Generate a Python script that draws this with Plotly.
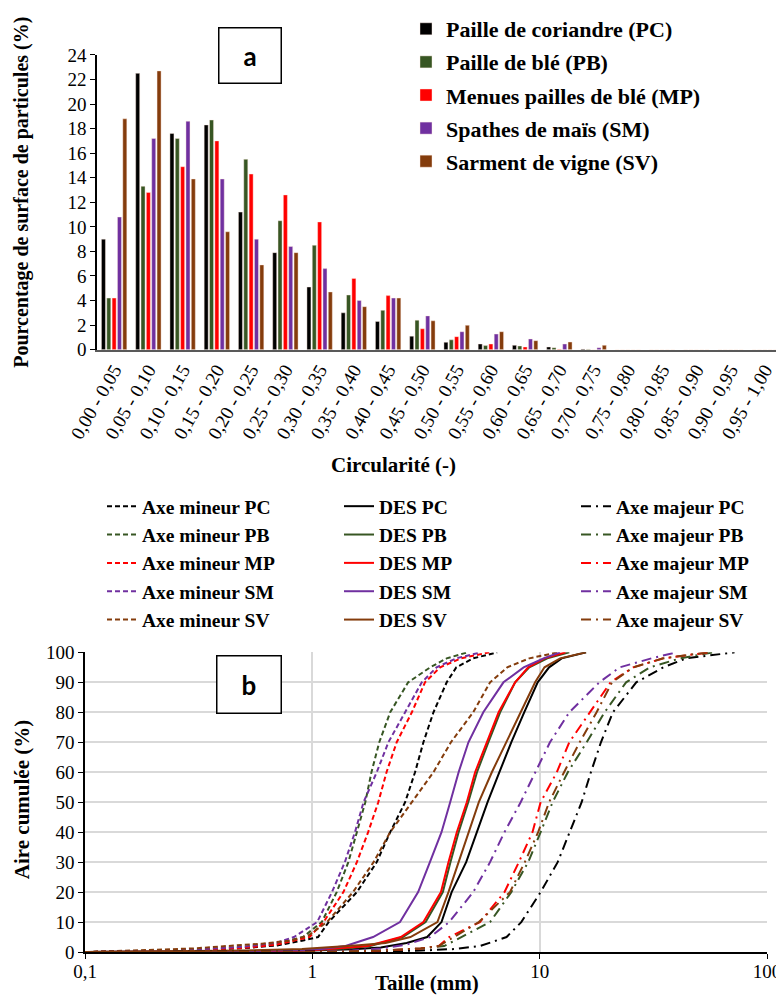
import plotly.graph_objects as go

# ---------------- Chart a: circularity distribution ----------------
categories = ["0,00 - 0,05", "0,05 - 0,10", "0,10 - 0,15", "0,15 - 0,20", "0,20 - 0,25",
              "0,25 - 0,30", "0,30 - 0,35", "0,35 - 0,40", "0,40 - 0,45", "0,45 - 0,50",
              "0,50 - 0,55", "0,55 - 0,60", "0,60 - 0,65", "0,65 - 0,70", "0,70 - 0,75",
              "0,75 - 0,80", "0,80 - 0,85", "0,85 - 0,90", "0,90 - 0,95", "0,95 - 1,00"]

bar_names = ["Paille de coriandre (PC)", "Paille de blé (PB)", "Menues pailles de blé (MP)",
             "Spathes de maïs (SM)", "Sarment de vigne (SV)"]

pc_vals = [9.0, 22.5, 17.6, 18.3, 11.2, 7.9, 5.1, 3.0, 2.3, 1.1, 0.6, 0.46, 0.35, 0.22, 0.05, 0, 0, 0, 0, 0]
pb_vals = [4.2, 13.3, 17.2, 18.7, 15.5, 10.5, 8.5, 4.45, 3.2, 2.4, 0.8, 0.33, 0.3, 0.16, 0.04, 0, 0, 0, 0, 0]
mp_vals = [4.2, 12.8, 14.9, 17.0, 14.3, 12.6, 10.4, 5.8, 4.4, 1.7, 1.06, 0.46, 0.22, 0.03, 0, 0, 0, 0, 0, 0]
sm_vals = [10.8, 17.2, 18.6, 13.9, 9.0, 8.4, 6.6, 4.0, 4.2, 2.75, 1.46, 1.27, 0.87, 0.46, 0.16, 0, 0, 0, 0, 0]
sv_vals = [18.8, 22.7, 13.9, 9.6, 6.9, 7.9, 4.7, 3.5, 4.2, 2.35, 1.98, 1.46, 0.73, 0.62, 0.35, 0, 0, 0, 0, 0]

# ---------------- Chart b: cumulative area vs size ----------------
min_pc_x = [0.1, 0.2, 0.3, 0.5, 0.7, 0.9, 1.06, 1.18, 1.57, 1.92, 2.2, 2.56, 2.83, 3.08, 3.41, 3.9, 4.3, 5.1, 6.5]
min_pc_y = [0, 0.3, 0.6, 1.3, 2.2, 3.8, 5, 10, 20, 30, 40, 50, 60, 70, 80, 90, 95, 98, 100]
min_pb_x = [0.1, 0.2, 0.3, 0.5, 0.7, 0.91, 1.1, 1.28, 1.44, 1.57, 1.71, 1.82, 1.97, 2.2, 2.64, 3.3, 3.9, 4.8]
min_pb_y = [0, 0.3, 0.7, 1.6, 2.8, 5, 10, 20, 30, 40, 50, 60, 70, 80, 90, 95, 98, 100]
min_mp_x = [0.1, 0.2, 0.3, 0.5, 0.7, 0.97, 1.12, 1.37, 1.57, 1.76, 1.95, 2.12, 2.35, 2.74, 3.13, 3.65, 4.5, 6.0]
min_mp_y = [0, 0.3, 0.6, 1.4, 2.5, 5, 10, 20, 30, 40, 50, 60, 70, 80, 90, 95, 98, 100]
min_sm_x = [0.1, 0.2, 0.3, 0.5, 0.7, 0.83, 1.05, 1.22, 1.39, 1.54, 1.68, 1.92, 2.16, 2.56, 3.03, 3.52, 4.3, 5.5]
min_sm_y = [0, 0.3, 0.8, 1.8, 3.2, 5, 10, 20, 30, 40, 50, 60, 70, 80, 90, 95, 98, 100]
min_sv_x = [0.1, 0.2, 0.3, 0.42, 0.6, 0.8, 0.96, 1.16, 1.51, 1.86, 2.2, 2.74, 3.41, 4.07, 5.1, 6.05, 7.2, 9.0, 12]
min_sv_y = [0, 0.6, 1.2, 2, 2.8, 3.8, 5.5, 10, 20, 30, 40, 50, 60, 70, 80, 90, 95, 98, 100]

des_pc_x = [0.1, 0.5, 1.0, 1.5, 2.0, 2.6, 3.2, 3.7, 4.1, 4.75, 5.3, 5.9, 6.65, 7.5, 8.55, 9.8, 11.0, 12.5, 16]
des_pc_y = [0, 0.2, 0.5, 0.9, 1.5, 3, 5, 10, 20, 30, 40, 50, 60, 70, 80, 90, 95, 98, 100]
des_pb_x = [0.1, 0.5, 1.0, 1.4, 1.8, 2.5, 3.15, 3.75, 4.05, 4.4, 4.85, 5.3, 5.95, 6.7, 7.8, 9.0, 10.8, 13.5]
des_pb_y = [0, 0.2, 0.6, 1.2, 2, 5, 10, 20, 30, 40, 50, 60, 70, 80, 90, 95, 98, 100]
des_mp_x = [0.1, 0.5, 1.0, 1.3, 1.75, 2.45, 3.08, 3.68, 3.97, 4.32, 4.78, 5.2, 5.85, 6.6, 7.8, 8.9, 10.5, 13]
des_mp_y = [0, 0.2, 0.6, 1.2, 2, 5, 10, 20, 30, 40, 50, 60, 70, 80, 90, 95, 98, 100]
des_sm_x = [0.1, 0.5, 0.9, 1.1, 1.4, 1.85, 2.43, 2.92, 3.29, 3.7, 4.04, 4.4, 4.86, 5.65, 6.93, 8.5, 10.4, 12.3]
des_sm_y = [0, 0.3, 0.7, 1, 2, 5, 10, 20, 30, 40, 50, 60, 70, 80, 90, 95, 98, 100]
des_sv_x = [0.1, 0.5, 0.9, 1.3, 1.6, 2.1, 2.7, 3.55, 3.97, 4.4, 4.86, 5.4, 6.16, 7.15, 8.25, 9.55, 10.5, 12.3, 16]
des_sv_y = [0, 0.5, 1, 1.7, 2.3, 3, 5, 10, 20, 30, 40, 50, 60, 70, 80, 90, 95, 98, 100]

maj_pc_x = [0.1, 1.0, 2.0, 3.0, 4.2, 5.46, 7.15, 8.3, 10.1, 12.0, 13.6, 15.3, 16.8, 18.6, 21, 26.6, 35, 44, 72]
maj_pc_y = [0, 0, 0.2, 0.5, 1, 2, 5, 10, 20, 30, 40, 50, 60, 70, 80, 90, 95, 98, 100]
maj_pb_x = [0.1, 1.0, 2.0, 3.0, 3.8, 4.5, 6.05, 7.5, 8.9, 10.1, 11.4, 13.3, 16.1, 19.3, 24, 30.5, 41.5, 58]
maj_pb_y = [0, 0, 0.5, 1.2, 2, 5, 10, 20, 30, 40, 50, 60, 70, 80, 90, 95, 98, 100]
maj_mp_x = [0.1, 1.0, 2.0, 3.0, 3.6, 4.0, 5.46, 7.0, 8.1, 9.3, 10.1, 11.9, 13.5, 16.6, 20.5, 25.8, 35, 56]
maj_mp_y = [0, 0, 0.5, 1.2, 2, 5, 10, 20, 30, 40, 50, 60, 70, 80, 90, 95, 98, 100]
maj_sm_x = [0.1, 1.0, 1.5, 2.0, 2.6, 3.3, 4.0, 5.1, 6.05, 7.0, 8.25, 9.55, 11.1, 13.5, 18.3, 22.5, 31, 40]
maj_sm_y = [0, 0, 0.5, 1.2, 2.5, 5, 10, 20, 30, 40, 50, 60, 70, 80, 90, 95, 98, 100]
maj_sv_x = [0.1, 1.0, 2.0, 3.0, 3.6, 4.2, 5.4, 7.4, 8.6, 9.85, 11.0, 12.8, 15.0, 17.8, 20.8, 25.8, 35, 55]
maj_sv_y = [0, 0, 0.5, 1.2, 2, 5, 10, 20, 30, 40, 50, 60, 70, 80, 90, 95, 98, 100]

size_ticks = [0.1, 1, 10, 100]
size_ticktext = ["0,1", "1", "10", "100"]

# ---------------- styling ----------------
# the page body keeps an 8px margin, so the figure is sized to fit the window
OFF = 8
W, H = 784 - OFF, 999 - OFF
SERIF = "Liberation Serif, Times New Roman, serif"
colors = ["#000000", "#375623", "#FF0000", "#7030A0", "#843C0C"]
codes = ["PC", "PB", "MP", "SM", "SV"]


def px_x(p):
    return (p - OFF) / W


def px_y(p):
    return 1 - (p - OFF) / H


fig = go.Figure()

bar_series = [pc_vals, pb_vals, mp_vals, sm_vals, sv_vals]
for i, (nm, vals) in enumerate(zip(bar_names, bar_series)):
    fig.add_trace(go.Bar(
        x=categories, y=vals, name=nm, xaxis="x", yaxis="y",
        marker=dict(color=colors[i], line=dict(color="rgba(255,235,225,0.7)", width=0.6)),
        legend="legend", legendgroup="bar%d" % i,
    ))

minor = [(min_pc_x, min_pc_y), (min_pb_x, min_pb_y), (min_mp_x, min_mp_y), (min_sm_x, min_sm_y), (min_sv_x, min_sv_y)]
des = [(des_pc_x, des_pc_y), (des_pb_x, des_pb_y), (des_mp_x, des_mp_y), (des_sm_x, des_sm_y), (des_sv_x, des_sv_y)]
major = [(maj_pc_x, maj_pc_y), (maj_pb_x, maj_pb_y), (maj_mp_x, maj_mp_y), (maj_sm_x, maj_sm_y), (maj_sv_x, maj_sv_y)]

groups = [("Axe mineur ", minor, "5px,3px", "legend2"),
          ("DES ", des, "solid", "legend3"),
          ("Axe majeur ", major, "10px,5px,2px,5px", "legend4")]
for prefix, data, dash, lg in groups:
    for i, (xs, ys) in enumerate(data):
        fig.add_trace(go.Scatter(
            x=xs, y=ys, mode="lines", name=prefix + codes[i],
            line=dict(color=colors[i], width=2, dash=dash),
            xaxis="x2", yaxis="y2", legend=lg,
        ))

tickfont = dict(family=SERIF, size=19, color="black")
legfont_top = dict(family=SERIF, size=22, color="black", weight="bold")
legfont_bot = dict(family=SERIF, size=19.5, color="black", weight="bold")

fig.update_layout(
    width=W, height=H, margin=dict(l=0, r=0, t=0, b=0),
    paper_bgcolor="white", plot_bgcolor="white",
    barmode="group", bargap=0.22, bargroupgap=0.25,
    font=dict(family=SERIF, color="black"),
    xaxis=dict(domain=[px_x(97), px_x(782)], anchor="y", type="category",
               tickangle=-60, tickfont=tickfont, showline=True, linecolor="#595959",
               linewidth=1.5, ticks="", showgrid=False, automargin=False, fixedrange=True),
    yaxis=dict(domain=[px_y(349), px_y(54)], anchor="x", range=[0, 24], dtick=2,
               showline=True, linecolor="black", linewidth=1.5, ticks="outside", ticklen=5,
               tickcolor="black", showgrid=False, zeroline=False, tickfont=tickfont,
               automargin=False),
    xaxis2=dict(domain=[px_x(85), px_x(767)], anchor="y2", type="log", range=[-1, 2],
                tickvals=size_ticks, ticktext=size_ticktext, tickfont=tickfont,
                showgrid=True, gridcolor="#d9d9d9", gridwidth=1.5, showline=True, linecolor="black",
                linewidth=1.5, ticks="outside", ticklen=5, tickcolor="black", zeroline=False,
                ticklabelstandoff=-4, automargin=False),
    yaxis2=dict(domain=[px_y(952), px_y(652)], anchor="x2", range=[0, 100], dtick=10,
                showgrid=True, gridcolor="#d9d9d9", gridwidth=1.5, showline=True, linecolor="black",
                linewidth=1.5, ticks="outside", ticklen=5, tickcolor="black", zeroline=False,
                tickfont=tickfont, automargin=False),
    legend=dict(x=px_x(406), y=px_y(7), xanchor="left", yanchor="top", orientation="v",
                font=legfont_top, bgcolor="rgba(0,0,0,0)", tracegroupgap=1.5, traceorder="grouped"),
    legend2=dict(x=px_x(102), y=px_y(487), xanchor="left", yanchor="top", orientation="v",
                 font=legfont_bot, bgcolor="rgba(0,0,0,0)", tracegroupgap=0),
    legend3=dict(x=px_x(339), y=px_y(487), xanchor="left", yanchor="top", orientation="v",
                 font=legfont_bot, bgcolor="rgba(0,0,0,0)", tracegroupgap=0),
    legend4=dict(x=px_x(576), y=px_y(487), xanchor="left", yanchor="top", orientation="v",
                 font=legfont_bot, bgcolor="rgba(0,0,0,0)", tracegroupgap=0),
)

title_font = dict(family=SERIF, size=20, color="black", weight="bold")
ann = [
    dict(text="Pourcentage de surface de particules (%)", x=px_x(22), y=px_y(192), textangle=-90,
         font=title_font),
    dict(text="Circularité (-)", x=px_x(393), y=px_y(464), font=dict(family=SERIF, size=21, color="black", weight="bold")),
    dict(text="Aire cumulée (%)", x=px_x(22), y=px_y(800), textangle=-90,
         font=dict(family=SERIF, size=21, color="black", weight="bold")),
    dict(text="Taille (mm)", x=px_x(427), y=px_y(983), font=dict(family=SERIF, size=21, color="black", weight="bold")),
    dict(text="a", x=px_x(250), y=px_y(55), width=61, height=54, borderpad=0,
         bordercolor="black", borderwidth=1.5, bgcolor="white",
         font=dict(family="Lato", size=26, color="black", weight="bold")),
    dict(text="b", x=px_x(248.5), y=px_y(684), width=63, height=56, borderpad=0,
         bordercolor="black", borderwidth=1.5, bgcolor="white",
         font=dict(family="Lato", size=26, color="black", weight="bold")),
]
for a in ann:
    a.update(xref="paper", yref="paper", showarrow=False, xanchor="center", yanchor="middle")
fig.update_layout(annotations=ann)

fig.write_html("out.html")
